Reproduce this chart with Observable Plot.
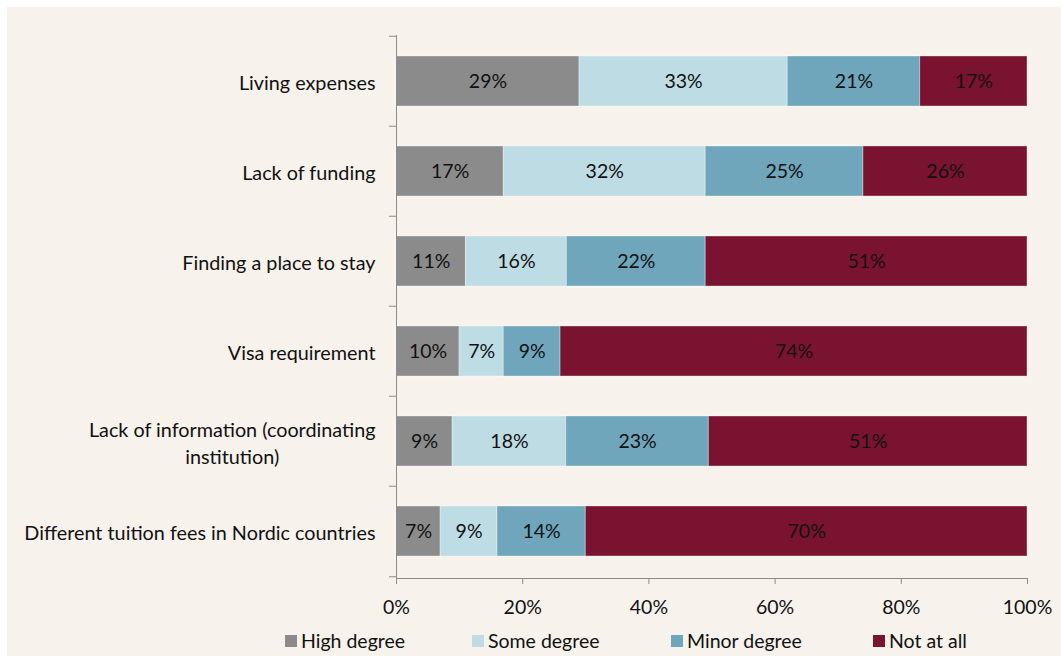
<!DOCTYPE html>
<html><head><meta charset="utf-8">
<script src="https://cdn.jsdelivr.net/npm/d3@7"></script>
<script src="https://cdn.jsdelivr.net/npm/@observablehq/plot@0.6"></script>
<style>
body{margin:0;background:#fff;width:1061px;height:656px;position:relative;overflow:hidden;font-family:Lato,sans-serif}
#panel{position:absolute;left:7px;top:7px;right:0;bottom:0;background:#f7f2ec}
#chart{position:absolute;left:0;top:0}
#legend{position:absolute;top:630px;left:285px;display:flex;font-size:19.5px;color:#111;line-height:22px}
.item{display:flex;align-items:center}
.sw{width:12px;height:12px;margin-right:4px}
</style></head><body>
<div id="panel"></div><div id="chart"></div><div id="legend"></div>
<script>
const categories = ["Living expenses","Lack of funding","Finding a place to stay","Visa requirement","Lack of information (coordinating institution)","Different tuition fees in Nordic countries"];
const categoryLabels = ["Living expenses","Lack of funding","Finding a place to stay","Visa requirement","Lack of information (coordinating\ninstitution)","Different tuition fees in Nordic countries"];
const series = ["High degree","Some degree","Minor degree","Not at all"];
const highDegree  = [29, 17, 11, 10, 8.9, 7];
const someDegree  = [33, 32, 16, 7, 18, 9];
const minorDegree = [21, 25, 22, 9, 22.6, 14];
const notAtAll    = [17, 26, 51, 74, 50.5, 70];
const xTicks = [0, 20, 40, 60, 80, 100];
const colors = ["#8b8b8b", "#bedce4", "#6fa6bb", "#7a1330"];

const W = 1061, H = 622, mL = 396, mR = 34, mT = 35, mB = 44;
const padIn = 0.44, padOut = 0.22;
const step = (H - mT - mB) / (categories.length - padIn + 2 * padOut);

const data = [];
const seriesValues = [highDegree, someDegree, minorDegree, notAtAll];
categories.forEach((c, i) => {
  seriesValues.forEach((arr, j) => data.push({category: c, series: series[j], value: arr[i]}));
});
const labelOf = new Map(categories.map((c, i) => [c, categoryLabels[i]]));

const plot = Plot.plot({
  width: W, height: H,
  marginLeft: mL, marginRight: mR, marginTop: mT, marginBottom: mB,
  style: {background: "transparent", fontFamily: "Lato, sans-serif", fontSize: "19.5px", color: "#111"},
  x: {domain: [0, 100], ticks: xTicks, tickFormat: d => d + "%", tickSize: 6, tickPadding: 16, label: null},
  y: {domain: categories, paddingInner: padIn, paddingOuter: padOut, axis: null},
  color: {domain: series, range: colors},
  marks: [
    Plot.barX(data, Plot.stackX({x: "value", y: "category", fill: "series", order: series, stroke: "#ffffff", strokeOpacity: 0.35, strokeWidth: 1})),
    Plot.text(data, Plot.stackX({x: "value", y: "category", z: "series", order: series, text: d => Math.round(d.value) + "%", fill: "#111", fontSize: 19.5})),
    Plot.text(categories, {x: 0, y: d => d, text: d => labelOf.get(d), dx: -21, textAnchor: "end", fontSize: 19.8, lineHeight: 1.36, fill: "#111"}),
    Plot.frame({anchor: "left", stroke: "#8c8c8c"}),
    Plot.frame({anchor: "bottom", stroke: "#8c8c8c"}),
    Plot.ruleY(categories, {y: d => d, x1: 0, x2: 0, insetLeft: -7, dy: -step / 2, stroke: "#8c8c8c"}),
    Plot.ruleY(categories.slice(-1), {y: d => d, x1: 0, x2: 0, insetLeft: -7, dy: step / 2, stroke: "#8c8c8c"})
  ]
});
document.getElementById("chart").appendChild(plot);

// axis tick colour
plot.querySelectorAll('[aria-label="x-axis tick"] path, [aria-label="x-axis tick"] line, g.tick line').forEach(e => e.setAttribute("stroke", "#8c8c8c"));

// center second line of wrapped label under first
plot.querySelectorAll("text").forEach(t => {
  const ts = t.querySelectorAll("tspan");
  if (ts.length === 2) {
    const w1 = ts[0].getComputedTextLength();
    ts[1].setAttribute("text-anchor", "middle");
    ts[1].setAttribute("x", -w1 / 2);
  }
});

const legend = document.getElementById("legend");
const itemWidths = [187, 199, 202, null];
series.forEach((s, i) => {
  const it = document.createElement("div");
  it.className = "item";
  if (itemWidths[i]) it.style.width = itemWidths[i] + "px";
  const sw = document.createElement("span");
  sw.className = "sw"; sw.style.background = colors[i];
  const tx = document.createElement("span");
  tx.textContent = s;
  it.appendChild(sw); it.appendChild(tx);
  legend.appendChild(it);
});
</script>
</body></html>
